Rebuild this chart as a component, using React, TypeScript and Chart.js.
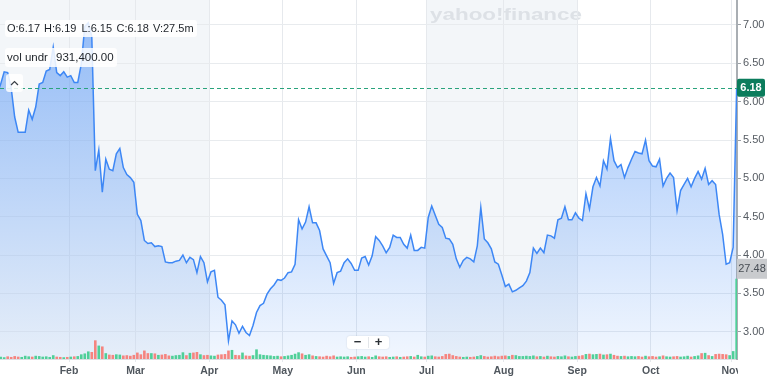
import React, { useEffect, useRef } from 'react';
import { Chart, registerables } from 'chart.js';

Chart.register(...registerables);

// Daily closes by trading-day index (Jan 2 = 0)
const prices: number[] = [
  6.10, 6.23, 6.39, 6.38, 6.18, 5.80, 5.60, 5.60, 5.60, 5.89,
  5.77, 5.93, 6.23, 6.25, 6.40, 6.42, 6.71, 6.38, 6.34, 6.39,
  6.32, 6.34, 6.25, 6.25, 6.49, 6.98, 7.03, 6.85, 5.10, 5.37,
  4.82, 5.25, 5.12, 5.10, 5.32, 5.39, 5.14, 5.05, 5.01, 4.95,
  4.53, 4.45, 4.19, 4.15, 4.16, 4.11, 4.12, 4.11, 3.91, 3.90,
  3.90, 3.92, 3.93, 4.00, 3.90, 3.97, 3.94, 3.77, 3.98, 3.90,
  3.65, 3.78, 3.80, 3.45, 3.41, 3.35, 2.88, 3.14, 3.09, 2.98,
  3.07, 2.99, 2.95, 3.08, 3.25, 3.34, 3.37, 3.49, 3.56, 3.61,
  3.68, 3.67, 3.70, 3.77, 3.78, 3.88, 4.46, 4.34, 4.43, 4.63,
  4.42, 4.42, 4.32, 4.08, 3.99, 3.90, 3.63, 3.77, 3.79, 3.90,
  3.95, 3.89, 3.80, 3.80, 3.96, 3.98, 3.87, 3.99, 4.24, 4.19,
  4.12, 4.03, 4.10, 4.26, 4.23, 4.23, 4.14, 4.09, 4.26, 4.06,
  4.06, 4.10, 4.09, 4.49, 4.64, 4.52, 4.40, 4.36, 4.22, 4.21,
  4.14, 3.95, 3.84, 3.93, 3.97, 3.95, 3.91, 4.12, 4.62, 4.21,
  4.16, 4.08, 3.91, 3.88, 3.74, 3.59, 3.62, 3.52, 3.54, 3.57,
  3.60, 3.66, 3.77, 4.09, 4.02, 4.09, 4.03, 4.26, 4.25, 4.22,
  4.46, 4.48, 4.63, 4.46, 4.46, 4.55, 4.48, 4.45, 4.80, 4.60,
  4.89, 5.01, 4.90, 5.23, 5.12, 5.52, 5.23, 5.14, 5.18, 5.01,
  5.14, 5.25, 5.35, 5.33, 5.32, 5.50, 5.23, 5.16, 5.15, 5.25,
  4.90, 5.00, 5.07, 5.01, 4.58, 4.84, 4.92, 5.00, 4.89, 5.00,
  5.09, 4.99, 5.13, 4.92, 4.97, 4.92, 4.53, 4.27, 3.88, 3.90,
  4.10, 6.18,
];

// Daily volume, millions
const volumes: number[] = [
  0.7, 0.8, 0.6, 0.9, 0.7, 1.0, 0.8, 0.7, 1.1, 0.9,
  0.8, 1.1, 1.0, 0.8, 0.9, 0.7, 1.3, 0.8, 0.7, 0.6,
  0.7, 0.8, 0.9, 1.0, 1.6, 1.9, 2.6, 2.4, 6.4, 4.6,
  4.3, 2.0, 1.5, 1.4, 1.6, 1.5, 1.2, 1.3, 1.1, 1.4,
  2.2, 1.6, 2.9, 2.0, 2.0, 1.9, 1.4, 1.5, 1.7, 1.2,
  1.1, 1.3, 1.4, 2.3, 1.3, 2.1, 2.2, 2.4, 1.6, 1.3,
  1.4, 1.2, 1.1, 1.5, 1.6, 1.7, 2.9, 3.1, 1.4, 1.3,
  2.2, 1.2, 1.1, 1.3, 3.3, 1.6, 1.4, 1.3, 1.2, 1.0,
  1.1, 0.9, 1.0, 1.2, 1.4, 1.8, 2.3, 1.9, 1.4, 1.6,
  1.2, 1.0, 0.9, 0.8, 1.1, 0.9, 1.2, 0.8, 0.9, 0.8,
  0.9, 0.7, 0.8, 0.9, 1.0, 0.8, 0.9, 0.7, 1.2, 0.9,
  0.8, 0.9, 0.7, 0.8, 0.9, 0.7, 0.8, 0.9, 1.0, 0.8,
  1.4, 0.9, 0.8, 1.1, 1.2, 0.9, 0.8, 1.0, 1.7, 1.8,
  1.3, 1.0, 0.8, 0.7, 0.8, 0.7, 0.8, 1.0, 1.3, 1.0,
  0.8, 0.9, 1.1, 0.9, 1.1, 1.2, 1.0, 1.4, 1.3, 1.0,
  1.0, 1.1, 1.0, 1.2, 0.9, 1.0, 0.8, 1.1, 0.9, 0.8,
  1.0, 0.9, 1.2, 0.9, 0.8, 1.0, 1.1, 1.3, 1.7, 1.8,
  1.6, 1.7, 1.8, 1.5, 1.6, 1.8, 1.4, 1.1, 1.0, 1.1,
  0.9, 1.0, 0.9, 1.0, 0.8, 1.1, 0.9, 1.0, 0.8, 0.9,
  1.2, 0.9, 0.8, 0.9, 1.0, 0.8, 0.9, 1.1, 0.8, 1.0,
  1.2, 2.0, 2.1, 1.3, 1.0, 1.7, 1.8, 1.7, 1.6, 1.3,
  2.7, 27.48,
];

// First trading-day index of each month shown on the axis
const monthStarts: number[] = [21, 40, 61, 82, 103, 123, 145, 166, 187, 210];
const monthLabels: string[] = ['Feb', 'Mar', 'Apr', 'May', 'Jun', 'Jul', 'Aug', 'Sep', 'Oct', 'Nov'];
const priceTicks: number[] = [3.0, 3.5, 4.0, 4.5, 5.0, 5.5, 6.0, 6.5, 7.0];
// shaded background periods [startIdx, endIdx)
const shadedPeriods: [number, number][] = [[0, 61], [123, 166]];

const lastPrice = 6.18;
const lastVolume = 27.48;
const quoteItems: string[] = ['O:6.17', 'H:6.19', 'L:6.15', 'C:6.18', 'V:27.5m'];
const volUnderName = 'vol undr';
const volUnderValue = '931,400.00';
const watermark = 'yahoo!finance';

const FONT = '"Liberation Sans", Arial, Helvetica, sans-serif';

const GREEN = '#4fcf98';
const RED = '#f5847f';

function rr(ctx: CanvasRenderingContext2D, x: number, y: number, w: number, h: number, r: number) {
  ctx.beginPath();
  ctx.roundRect(x, y, w, h, r);
}

const overlayPlugin = {
  id: 'yfOverlay',
  beforeDraw(chart: any) {
    const { ctx, chartArea: a, scales } = chart;
    ctx.save();
    ctx.fillStyle = '#ffffff';
    ctx.fillRect(0, 0, chart.width, chart.height);
    ctx.fillStyle = '#f3f6f9';
    for (const [s, e] of shadedPeriods) {
      const x0 = Math.max(a.left, scales.x.getPixelForValue(s - 0.5));
      const x1 = Math.min(a.right, scales.x.getPixelForValue(e - 0.5));
      if (x1 > x0) ctx.fillRect(x0, a.top, x1 - x0, a.bottom - a.top);
    }
    // watermark
    ctx.font = `bold 16px ${FONT}`;
    const w = ctx.measureText(watermark).width;
    ctx.translate(430, 20);
    ctx.scale(152 / w, 1);
    ctx.fillStyle = '#dde1e6';
    ctx.textBaseline = 'alphabetic';
    ctx.textAlign = 'left';
    ctx.fillText(watermark, 0, 0);
    ctx.restore();
  },
  afterDraw(chart: any) {
    const { ctx, chartArea: a, scales } = chart;
    ctx.save();
    // hide x labels spilling into the price axis column
    ctx.fillStyle = '#ffffff';
    ctx.fillRect(a.right + 1, a.bottom + 1, chart.width - a.right, chart.height - a.bottom);

    // last price dashed line
    const py = scales.y.getPixelForValue(lastPrice);
    ctx.strokeStyle = '#2aa37c';
    ctx.lineWidth = 1;
    ctx.setLineDash([4, 3]);
    ctx.beginPath();
    ctx.moveTo(a.left, Math.round(py) + 0.5);
    ctx.lineTo(a.right, Math.round(py) + 0.5);
    ctx.stroke();
    ctx.setLineDash([]);

    // last price badge
    ctx.fillStyle = '#0b7c5c';
    rr(ctx, a.right, py - 9, 28, 18, 2);
    ctx.fill();
    ctx.fillStyle = '#ffffff';
    ctx.font = `bold 11px ${FONT}`;
    ctx.textAlign = 'center';
    ctx.textBaseline = 'middle';
    ctx.fillText(lastPrice.toFixed(2), a.right + 14, py + 0.5);

    // last volume badge
    const vy = scales.yv.getPixelForValue(lastVolume);
    ctx.fillStyle = '#c9cbce';
    ctx.fillRect(a.right, vy - 20, 30, 20);
    ctx.fillStyle = '#474d54';
    ctx.font = `11px ${FONT}`;
    ctx.fillText(lastVolume.toFixed(2), a.right + 15, vy - 10);

    // quote box
    ctx.fillStyle = 'rgba(255,255,255,0.85)';
    rr(ctx, 5, 20, 192, 17, 3);
    ctx.fill();
    ctx.fillStyle = '#1d2228';
    ctx.font = `11px ${FONT}`;
    ctx.textAlign = 'left';
    const qx = [7, 44, 81.5, 116.5, 153];
    quoteItems.forEach((t, i) => ctx.fillText(t, qx[i], 28.8));

    // vol underlying box
    ctx.fillStyle = 'rgba(255,255,255,0.85)';
    rr(ctx, 5, 48, 112, 19, 3);
    ctx.fill();
    ctx.fillStyle = '#1d2228';
    ctx.font = `11.5px ${FONT}`;
    ctx.fillText(volUnderName, 7, 57.8);
    ctx.fillText(volUnderValue, 56, 57.8);

    // collapse button
    ctx.fillStyle = 'rgba(255,255,255,0.85)';
    rr(ctx, 6, 74, 17, 18, 3);
    ctx.fill();
    ctx.strokeStyle = '#3a4047';
    ctx.lineWidth = 1.2;
    ctx.beginPath();
    ctx.moveTo(11, 85);
    ctx.lineTo(14.5, 81.5);
    ctx.lineTo(18, 85);
    ctx.stroke();

    // zoom buttons
    ctx.fillStyle = '#ffffff';
    ctx.shadowColor = 'rgba(0,0,0,0.12)';
    ctx.shadowBlur = 2;
    rr(ctx, 347, 336, 42, 13, 3);
    ctx.fill();
    ctx.shadowBlur = 0;
    ctx.shadowColor = 'transparent';
    ctx.strokeStyle = '#e3e6ea';
    ctx.lineWidth = 1;
    ctx.beginPath();
    ctx.moveTo(368.5, 337);
    ctx.lineTo(368.5, 348);
    ctx.stroke();
    ctx.fillStyle = '#2c3137';
    ctx.font = `bold 13px ${FONT}`;
    ctx.textAlign = 'center';
    ctx.textBaseline = 'middle';
    ctx.fillText('\u2212', 357.5, 342.5);
    ctx.fillText('+', 378.5, 342.5);
    ctx.restore();
  },
};

export default function App() {
  const ref = useRef<HTMLCanvasElement | null>(null);

  useEffect(() => {
    document.body.style.margin = '0';
    const canvas = ref.current;
    if (!canvas) return;

    const barColors = volumes.map((_, i) => (i === 0 || prices[i] >= prices[i - 1] ? GREEN : RED));

    const chart = new Chart(canvas, {
      type: 'line',
      data: {
        datasets: [
          {
            type: 'bar',
            data: volumes.map((v, i) => ({ x: i, y: v })),
            yAxisID: 'yv',
            xAxisID: 'x',
            backgroundColor: barColors,
            borderWidth: 0,
            barPercentage: 0.75,
            categoryPercentage: 1,
            order: 0,
          } as any,
          {
            type: 'line',
            data: prices.map((p, i) => ({ x: i, y: p })),
            yAxisID: 'y',
            xAxisID: 'x',
            borderColor: '#3d87f5',
            borderWidth: 1.5,
            pointRadius: 0,
            tension: 0,
            fill: 'start',
            backgroundColor: (c: any) => {
              const { chart: ch } = c;
              const area = ch.chartArea;
              if (!area) return 'rgba(61,135,245,0.3)';
              const g = ch.ctx.createLinearGradient(0, area.top, 0, area.bottom);
              g.addColorStop(0, 'rgba(61,135,245,0.55)');
              g.addColorStop(1, 'rgba(61,135,245,0.07)');
              return g;
            },
            order: 1,
          } as any,
        ],
      },
      options: {
        animation: false,
        responsive: false,
        maintainAspectRatio: false,
        events: [],
        layout: { padding: 0 },
        plugins: {
          legend: { display: false },
          tooltip: { enabled: false },
        },
        scales: {
          x: {
            type: 'linear',
            offset: false,
            min: 0.81,
            max: 211.1,
            afterBuildTicks: (s: any) => {
              s.ticks = monthStarts.map((m) => ({ value: m - 0.5 }));
            },
            afterFit: (s: any) => {
              s.height = 21;
              s.paddingLeft = 0;
              s.paddingRight = 0;
              s.paddingTop = 0;
              s.paddingBottom = 0;
            },
            ticks: {
              autoSkip: false,
              maxRotation: 0,
              padding: 3,
              color: '#50575e',
              font: { family: FONT, size: 10.5, weight: 'bold' },
              callback: (_v: any, i: number) => monthLabels[i],
            },
            grid: { offset: false, color: '#e6e9ed', tickLength: 3, tickColor: '#e6e9ed' },
            border: { display: true, color: '#dcdfe3', width: 1 },
          },
          y: {
            type: 'linear',
            position: 'right',
            min: 2.644,
            max: 7.326,
            afterBuildTicks: (s: any) => {
              s.ticks = priceTicks.map((v) => ({ value: v }));
            },
            afterFit: (s: any) => {
              s.width = 44;
              s.paddingLeft = 0;
              s.paddingRight = 0;
              s.paddingTop = 0;
              s.paddingBottom = 0;
            },
            ticks: {
              padding: 2,
              color: '#555b62',
              font: { family: FONT, size: 11 },
              callback: (v: any) => Number(v).toFixed(2),
            },
            grid: { color: '#e8ebee', tickLength: 4, tickColor: '#9aa0a6' },
            border: { display: true, color: '#a9aeb3', width: 2 },
          },
          yv: {
            type: 'linear',
            display: false,
            min: 0,
            max: 123,
          },
        },
      } as any,
      plugins: [overlayPlugin],
    });

    return () => chart.destroy();
  }, []);

  return (
    <div style={{ width: 781, height: 380, position: 'relative' }}>
      <canvas ref={ref} width={781} height={380} style={{ display: 'block', width: 781, height: 380 }} />
    </div>
  );
}
